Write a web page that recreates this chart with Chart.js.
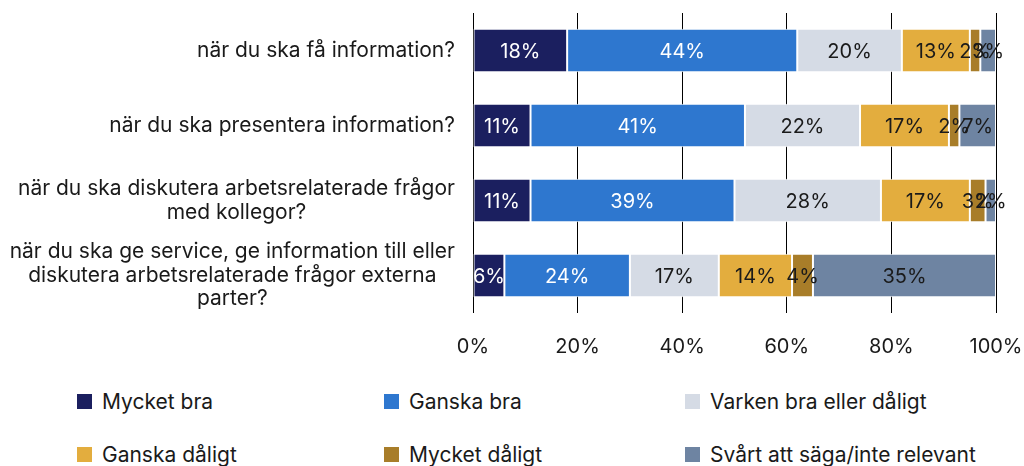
<!DOCTYPE html>
<html lang="sv">
<head>
    <meta charset="UTF-8">
    <title>Stapeldiagram</title>
    <script src="https://cdn.jsdelivr.net/npm/chart.js"></script>
    <style>
        body { margin: 0; background: #fff; font-family: 'Inter', 'Noto Sans', sans-serif; }
        #wrap { position: relative; width: 1024px; height: 466px; overflow: hidden; }
        #chartBox { position: absolute; left: 0; top: 0; width: 1024px; height: 365px; }
        .lg { position: absolute; font-size: 21px; color: #1a1a1a; line-height: 22px; white-space: nowrap; }
        .lg span { display: inline-block; width: 15px; height: 15px; margin-right: 10px; vertical-align: 0px; }
    </style>
</head>
<body>
<div id="wrap">
    <div id="chartBox"><canvas id="chart"></canvas></div>
    <div id="legend"></div>
</div>
<script>
    // kategorier (flerradiga etiketter)
    const categories = [
        ['när du ska få information?'],
        ['när du ska presentera information?'],
        ['när du ska diskutera arbetsrelaterade frågor', 'med kollegor?'],
        ['när du ska ge service, ge information till eller', 'diskutera arbetsrelaterade frågor externa', 'parter?']
    ];

    const seriesNames = ['Mycket bra', 'Ganska bra', 'Varken bra eller dåligt', 'Ganska dåligt', 'Mycket dåligt', 'Svårt att säga/inte relevant'];
    const mycketBra = [18, 11, 11, 6];
    const ganskaBra = [44, 41, 39, 24];
    const varken = [20, 22, 28, 17];
    const ganskaDaligt = [13, 17, 17, 14];
    const mycketDaligt = [2, 2, 3, 4];
    const svart = [3, 7, 2, 35];
    const xTicks = [0, 20, 40, 60, 80, 100];

    const colors = ['#1b1f5f', '#2e77cf', '#d5dbe5', '#e3ad3e', '#a87d29', '#6e84a2'];
    const labelColors = ['#ffffff', '#ffffff', '#1a1a1a', '#1a1a1a', '#1a1a1a', '#1a1a1a'];
    const allSeries = [mycketBra, ganskaBra, varken, ganskaDaligt, mycketDaligt, svart];

    // legend i tre kolumner
    const legendCols = [77, 384, 685];
    const legendRows = [391, 444];
    const legend = document.getElementById('legend');
    seriesNames.forEach((name, i) => {
        const d = document.createElement('div');
        d.className = 'lg';
        d.style.left = legendCols[i % 3] + 'px';
        d.style.top = legendRows[Math.floor(i / 3)] + 'px';
        d.innerHTML = '<span style="background:' + colors[i] + '"></span>' + name;
        legend.appendChild(d);
    });

    // etiketter i staplarna
    const valueLabels = {
        id: 'valueLabels',
        afterDatasetsDraw(chart) {
            const ctx = chart.ctx;
            ctx.save();
            ctx.font = '20px Inter, "Noto Sans", sans-serif';
            ctx.textAlign = 'center';
            ctx.textBaseline = 'middle';
            chart.data.datasets.forEach((ds, i) => {
                chart.getDatasetMeta(i).data.forEach((bar, j) => {
                    ctx.fillStyle = labelColors[i];
                    ctx.fillText(ds.data[j] + '%', (bar.x + bar.base) / 2, bar.y + 1);
                });
            });
            ctx.restore();
        }
    };

    // kategorietiketter: högerjusterat block, centrerade rader
    const catLabels = {
        id: 'catLabels',
        afterDraw(chart) {
            const ctx = chart.ctx;
            const y = chart.scales.y;
            ctx.save();
            ctx.font = '21px Inter, "Noto Sans", sans-serif';
            ctx.fillStyle = '#1a1a1a';
            ctx.textAlign = 'center';
            ctx.textBaseline = 'middle';
            const right = chart.chartArea.left - 18;
            const lh = 23.5;
            categories.forEach((lines, i) => {
                const maxW = Math.max(...lines.map(l => ctx.measureText(l).width));
                const cx = right - maxW / 2;
                const cy = y.getPixelForTick(i);
                lines.forEach((l, k) => {
                    ctx.fillText(l, cx, cy + (k - (lines.length - 1) / 2) * lh);
                });
            });
            ctx.restore();
        }
    };

    new Chart(document.getElementById('chart'), {
        type: 'bar',
        data: {
            labels: categories.map(c => c.join(' ')),
            datasets: allSeries.map((d, i) => ({
                label: seriesNames[i],
                data: d,
                backgroundColor: colors[i],
                borderColor: '#ffffff',
                borderWidth: 1,
                borderSkipped: false,
                barPercentage: 0.58,
                categoryPercentage: 1
            }))
        },
        options: {
            indexAxis: 'y',
            responsive: true,
            maintainAspectRatio: false,
            animation: false,
            layout: { padding: { top: 13, right: 28, left: 0, bottom: 0 } },
            plugins: { legend: { display: false }, tooltip: { enabled: false } },
            scales: {
                x: {
                    stacked: true,
                    min: 0,
                    max: 100,
                    afterBuildTicks: s => { s.ticks = xTicks.map(v => ({ value: v })); },
                    afterFit: s => { s.height = 52; s.paddingRight = 0; s.paddingLeft = 0; },
                    grid: { color: '#000', lineWidth: 1, drawTicks: false },
                    border: { display: false },
                    ticks: {
                        padding: 22,
                        color: '#1a1a1a',
                        font: { family: 'Inter', size: 20 },
                        callback: v => v + '%'
                    }
                },
                y: {
                    stacked: true,
                    afterFit: s => { s.width = 473; },
                    grid: { display: false },
                    border: { display: false },
                    ticks: { display: false }
                }
            }
        },
        plugins: [valueLabels, catLabels]
    });
</script>
</body>
</html>
